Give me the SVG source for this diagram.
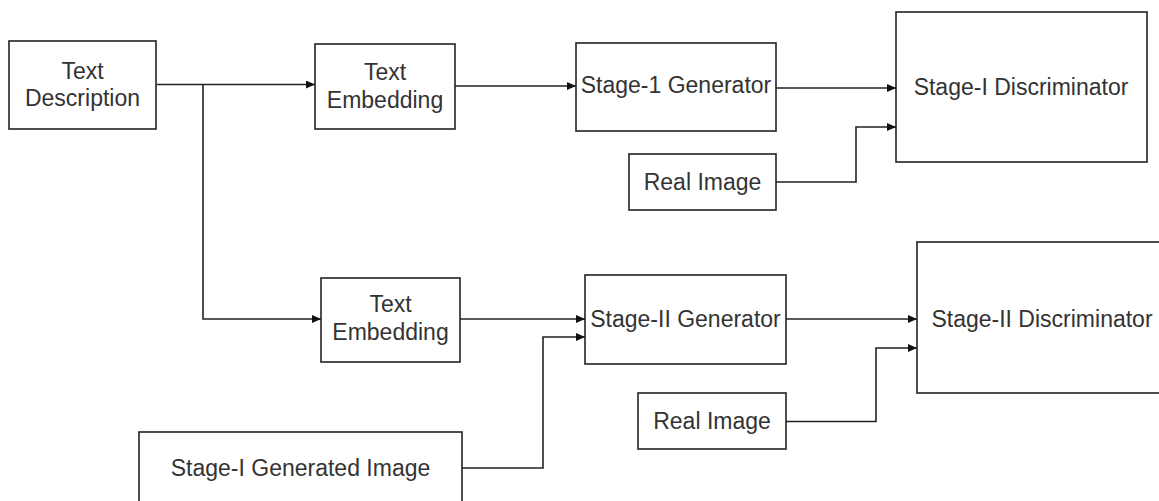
<svg xmlns="http://www.w3.org/2000/svg" width="1159" height="501" viewBox="0 0 1159 501">
<style>
.box{fill:#fff;stroke:#222;stroke-width:1.6}
.lbl{font-family:"Liberation Sans",Arial,sans-serif;font-size:23px;fill:#333;text-anchor:middle}
.conn{fill:none;stroke:#222;stroke-width:1.6;marker-end:url(#arr)}
</style>
<defs>
<marker id="arr" markerUnits="userSpaceOnUse" markerWidth="10" markerHeight="10" refX="9" refY="4" orient="auto">
<path d="M0,0 L9,4 L0,8 z" fill="#111"/>
</marker>
</defs>
<rect width="1159" height="501" fill="#fff"/>
<g id="connectors">
<path class="conn" d="M157,84.5 H315"/>
<path class="conn" d="M203,84.5 V319 H321"/>
<path class="conn" d="M455,86 H576"/>
<path class="conn" d="M776,88 H896"/>
<path class="conn" d="M776,182 H856 V127 H896"/>
<path class="conn" d="M460,319 H585"/>
<path class="conn" d="M462,468 H543 V337 H585"/>
<path class="conn" d="M786,319 H917"/>
<path class="conn" d="M786,421.5 H876 V348 H917"/>
</g>
<g id="text-description">
<rect class="box" x="9" y="41" width="147" height="88"/>
<text class="lbl" x="82.5" y="79">Text</text>
<text class="lbl" x="82.5" y="106">Description</text>
</g>
<g id="text-embedding-1">
<rect class="box" x="315" y="44" width="140" height="85"/>
<text class="lbl" x="385" y="80">Text</text>
<text class="lbl" x="385" y="108">Embedding</text>
</g>
<g id="stage1-generator">
<rect class="box" x="576" y="43" width="200" height="88"/>
<text class="lbl" x="676" y="93">Stage-1 Generator</text>
</g>
<g id="stage1-discriminator">
<rect class="box" x="896" y="12" width="251" height="150"/>
<text class="lbl" x="1021" y="95">Stage-I Discriminator</text>
</g>
<g id="real-image-1">
<rect class="box" x="629" y="154" width="147" height="56"/>
<text class="lbl" x="702.5" y="190">Real Image</text>
</g>
<g id="text-embedding-2">
<rect class="box" x="321" y="278" width="139" height="84"/>
<text class="lbl" x="390.5" y="312">Text</text>
<text class="lbl" x="390.5" y="340">Embedding</text>
</g>
<g id="stage2-generator">
<rect class="box" x="585" y="275" width="201" height="89"/>
<text class="lbl" x="685.5" y="327">Stage-II Generator</text>
</g>
<g id="stage2-discriminator">
<rect class="box" x="917" y="242" width="252" height="151"/>
<text class="lbl" x="1042" y="327">Stage-II Discriminator</text>
</g>
<g id="real-image-2">
<rect class="box" x="638" y="393" width="148" height="56"/>
<text class="lbl" x="712" y="429">Real Image</text>
</g>
<g id="stage1-generated-image">
<rect class="box" x="139" y="432" width="323" height="80"/>
<text class="lbl" x="300.5" y="476">Stage-I Generated Image</text>
</g>
</svg>
